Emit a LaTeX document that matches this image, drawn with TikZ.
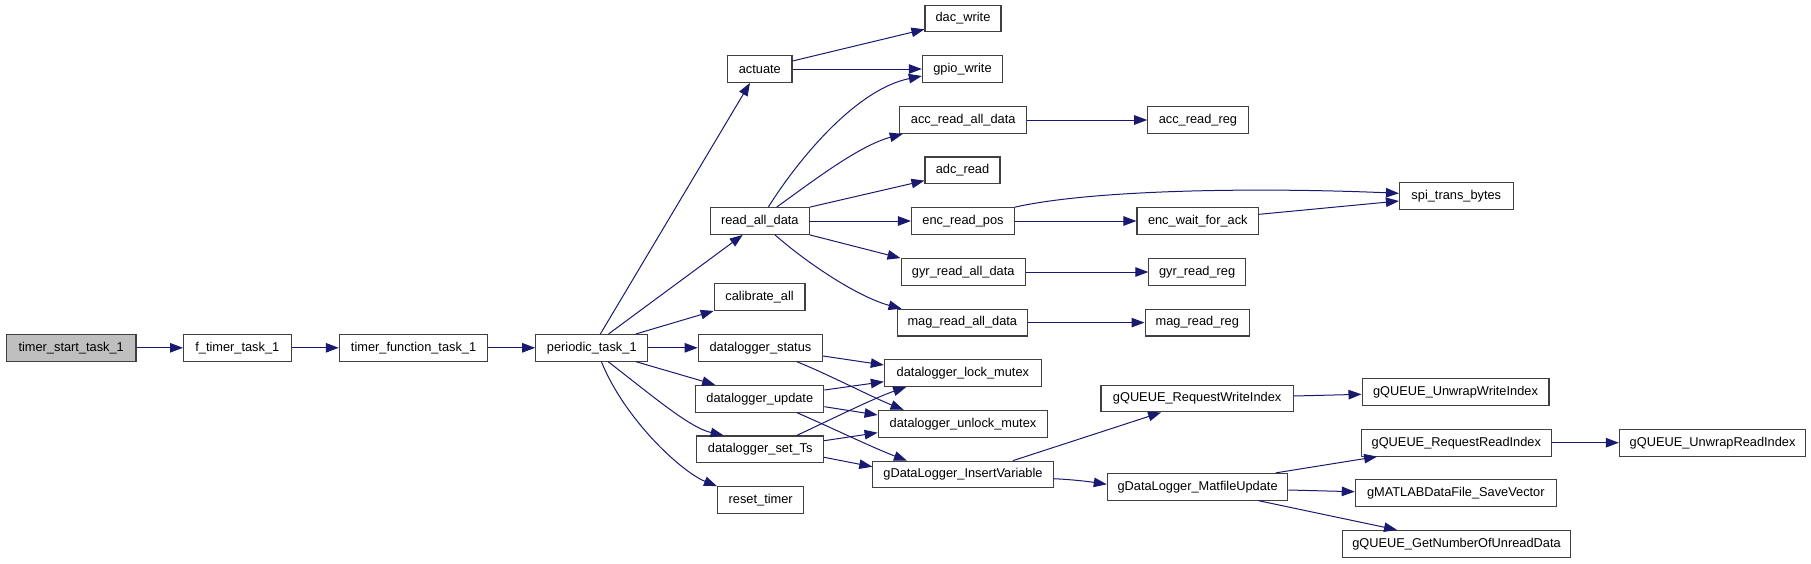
\documentclass[tikz,border=0pt]{standalone}
\usepackage{fontspec}
\setmainfont{Liberation Sans}
\usetikzlibrary{arrows.meta}
\definecolor{edgecol}{HTML}{191970}
\definecolor{boxcol}{HTML}{404040}
\definecolor{rootfill}{HTML}{BFBFBF}
\begin{document}
\begin{tikzpicture}[x=1pt,y=-1pt,
  fn/.style={draw=boxcol,line width=1.1pt,fill=white,minimum height=26.7pt,inner sep=0pt,
    font=\fontsize{12.8}{15}\selectfont,text=black},
  root/.style={fn,fill=rootfill},
  edge/.style={draw=edgecol,line width=1pt,-{Triangle[length=13pt,width=9.5pt]}}]
\useasboundingbox (0,0) rectangle (1811,563);
% nodes
\node[root,minimum width=129.6pt] (tst) at (71.2,347.8) {timer\_start\_task\_1};
\node[fn,minimum width=107.5pt] (ftt) at (237.3,347.8) {f\_timer\_task\_1};
\node[fn,minimum width=148.6pt] (tft) at (413.6,347.8) {timer\_function\_task\_1};
\node[fn,minimum width=112.2pt] (per) at (591.8,347.8) {periodic\_task\_1};
\node[fn,minimum width=64.3pt] (act) at (759.8,69) {actuate};
\node[fn,minimum width=76pt] (dac) at (963,18.5) {dac\_write};
\node[fn,minimum width=80.3pt] (gpio) at (962.5,69) {gpio\_write};
\node[fn,minimum width=99pt] (rad) at (759.8,221) {read\_all\_data};
\node[fn,minimum width=127pt] (accd) at (963.2,120) {acc\_read\_all\_data};
\node[fn,minimum width=75pt] (adc) at (962.5,170.3) {adc\_read};
\node[fn,minimum width=103pt] (enc) at (963,221) {enc\_read\_pos};
\node[fn,minimum width=100.3pt] (accr) at (1197.9,120) {acc\_read\_reg};
\node[fn,minimum width=113.7pt] (spi) at (1456.3,196) {spi\_trans\_bytes};
\node[fn,minimum width=121.7pt] (ewa) at (1197.8,221) {enc\_wait\_for\_ack};
\node[fn,minimum width=124.3pt] (gyrd) at (963.2,272) {gyr\_read\_all\_data};
\node[fn,minimum width=96.4pt] (gyrr) at (1197.1,272) {gyr\_read\_reg};
\node[fn,minimum width=130.4pt] (magd) at (962.3,322.6) {mag\_read\_all\_data};
\node[fn,minimum width=104.5pt] (magr) at (1197.3,322.6) {mag\_read\_reg};
\node[fn,minimum width=90.7pt] (cal) at (759.6,297) {calibrate\_all};
\node[fn,minimum width=124.3pt] (dls) at (760.4,347.8) {datalogger\_status};
\node[fn,minimum width=128.2pt] (dlu) at (759.8,398.7) {datalogger\_update};
\node[fn,minimum width=126.8pt] (dlt) at (760.2,449.3) {datalogger\_set\_Ts};
\node[fn,minimum width=86.4pt] (rst) at (760.7,500) {reset\_timer};
\node[fn,minimum width=157.1pt] (lock) at (962.9,373.2) {datalogger\_lock\_mutex};
\node[fn,minimum width=169.7pt] (unlock) at (963,423.7) {datalogger\_unlock\_mutex};
\node[fn,minimum width=180.3pt] (ins) at (963,474.5) {gDataLogger\_InsertVariable};
\node[fn,minimum width=192.2pt] (rwi) at (1197.1,398.5) {gQUEUE\_RequestWriteIndex};
\node[fn,minimum width=186.9pt] (uwi) at (1455.5,392) {gQUEUE\_UnwrapWriteIndex};
\node[fn,minimum width=190.3pt] (rri) at (1456.3,442.7) {gQUEUE\_RequestReadIndex};
\node[fn,minimum width=186.4pt] (uri) at (1712.6,442.7) {gQUEUE\_UnwrapReadIndex};
\node[fn,minimum width=180.6pt] (mfu) at (1197.6,486.8) {gDataLogger\_MatfileUpdate};
\node[fn,minimum width=201pt] (sv) at (1455.8,493) {gMATLABDataFile\_SaveVector};
\node[fn,minimum width=227.7pt] (gnu) at (1456.5,543.8) {gQUEUE\_GetNumberOfUnreadData};
% edges
\draw[edge] (tst.east) -- (ftt.west);
\draw[edge] (ftt.east) -- (tft.west);
\draw[edge] (tft.east) -- (per.west);
\draw[edge] ([xshift=8.6]per.north) -- ([xshift=-9.8]act.south);
\draw[edge] ([xshift=16.8]per.north) -- ([xshift=-17.1]rad.south);
\draw[edge] ([xshift=44.2]per.north) -- (cal.south west);
\draw[edge] (per.east) -- (dls.west);
\draw[edge] ([xshift=44.2]per.south) -- ([xshift=20]dlu.north west);
\draw[edge] ([xshift=16.4]per.south) .. controls +(46.8,36.3) and +(-33.6,-7.7) .. ([xshift=-36.6]dlt.north);
\draw[edge] ([xshift=9.6]per.south) .. controls +(23.6,58.3) and +(-35,-14) .. (rst.north west);
\draw[edge] ([yshift=8]act.east) -- ([yshift=-10.8]dac.west);
\draw[edge] (act.east) -- (gpio.west);
\draw[edge] ([xshift=8.5]rad.north) .. controls +(26.7,-42.7) and +(-68.3,14) .. ([yshift=-7]gpio.west);
\draw[edge] ([xshift=16.9]rad.north) .. controls +(38.3,-27.7) and +(-43.3,11.7) .. ([xshift=3.6]accd.south west);
\draw[edge] (rad.north east) -- ([yshift=3.6]adc.south west);
\draw[edge] (rad.east) -- (enc.west);
\draw[edge] (rad.south east) -- (gyrd.north west);
\draw[edge] ([xshift=15.2]rad.south) .. controls +(35,30.7) and +(-42,-11.3) .. ([xshift=5]magd.north west);
\draw[edge] (accd.east) -- (accr.west);
\draw[edge] (enc.north east) .. controls +(75.5,-17) and +(-148,-6.3) .. ([yshift=2.7]spi.west);
\draw[edge] (enc.east) -- (ewa.west);
\draw[edge] ([yshift=6.7]ewa.east) -- ([yshift=-5]spi.west);
\draw[edge] (gyrd.east) -- (gyrr.west);
\draw[edge] (magd.east) -- (magr.west);
\draw[edge] ([yshift=-8.2]dls.east) -- ([yshift=8.2]lock.west);
\draw[edge] ([xshift=36.4]dls.south) .. controls +(30,12) and +(-30,-12) .. ([xshift=26]unlock.north west);
\draw[edge] ([yshift=8.7]dlu.east) -- ([yshift=-8.5]lock.west);
\draw[edge] ([yshift=-8]dlu.east) -- ([yshift=8.7]unlock.west);
\draw[edge] ([xshift=37]dlu.south) .. controls +(30,13) and +(-32,-12) .. ([xshift=34.6]ins.north west);
\draw[edge] ([xshift=36.6]dlt.north) .. controls +(30,-14) and +(-30,10) .. ([xshift=22.4]lock.south west);
\draw[edge] ([yshift=8.6]dlt.east) -- ([yshift=-9]unlock.west);
\draw[edge] ([yshift=-8]dlt.east) -- ([yshift=7.8]ins.west);
\draw[edge] ([xshift=50]ins.north) -- ([xshift=-36]rwi.south);
\draw[edge] ([yshift=-4.2]ins.east) .. controls +(20,1) and +(-20,-3) .. ([yshift=2.5]mfu.west);
\draw[edge] ([yshift=2.5]rwi.east) -- ([yshift=-2.3]uwi.west);
\draw[edge] ([xshift=78]mfu.north) -- ([xshift=16.5]rri.south west);
\draw[edge] ([yshift=-3.2]mfu.east) -- ([yshift=1.3]sv.west);
\draw[edge] ([xshift=61]mfu.south) -- ([xshift=-59.5]gnu.north);
\draw[edge] (rri.east) -- (uri.west);
\end{tikzpicture}
\end{document}
